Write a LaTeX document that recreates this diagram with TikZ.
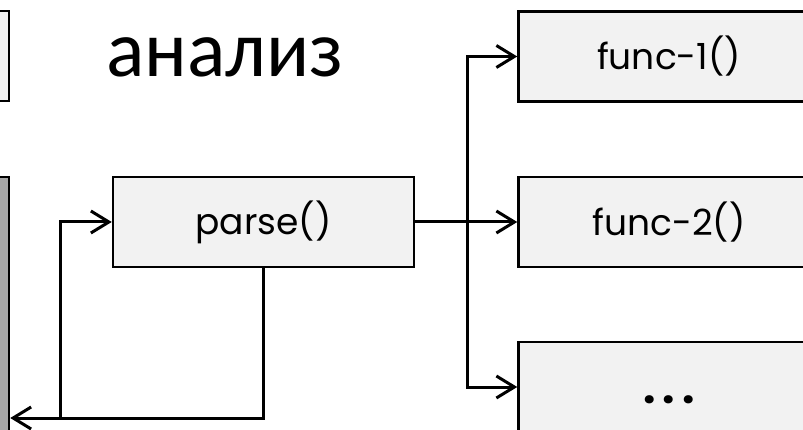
\documentclass[tikz,border=0pt]{standalone}
\usepackage{fontspec}
\setmainfont{Poppins}
\newfontfamily\titlefont{Carlito}
\usepackage{tikz}
\usetikzlibrary{positioning,arrows.meta}
\definecolor{boxfill}{HTML}{F2F2F2}
\definecolor{stackfill}{HTML}{A6A6A6}

\begin{document}
\begin{tikzpicture}[
x=1pt,y=-1pt,
func/.style={
	draw,
	fill=boxfill,
	line width=2.5pt,
	minimum width=301pt,
	minimum height=90pt,
	inner sep=0pt,
	font=\fontsize{36}{36}\selectfont
},
side/.style={
	draw,
	line width=2.5pt,
	minimum width=38pt,
	inner sep=0pt
},
flow/.style={
	line width=3pt,
	-{Straight Barb[length=18pt,width=22pt,line width=3pt]}
}
]
\useasboundingbox (0,0) rectangle (803,430);

\node[side,fill=boxfill,minimum height=90pt] at (-10,56)
(prev) {};
\node[side,fill=stackfill,minimum height=290pt] at (-10,322)
(stack) {};
\node[font=\titlefont\fontsize{80}{80}\selectfont] at (225,57)
(title) {анализ};

\node[func] at (263.5,222)
(parse) {parse()};
\node[func] at (669,56.5)
(f1) {func-1()};
\node[func] at (669,222)
(f2) {func-2()};
\node[func] at (669,387)
(fdots) {\smash{\raisebox{-16pt}{\fontsize{44}{44}\selectfont\bfseries .\,.\,.}}};

\coordinate (split) at (467,222);
\coordinate (loop) at (60,418);

\draw[flow] (parse) -- (f2);
\draw[flow] (split) |- (f1);
\draw[flow] (split) |- (fdots);
\draw[flow] (parse.south) |- (stack.east |- loop);
\draw[flow] (loop) |- (parse);

\end{tikzpicture}
\end{document}
